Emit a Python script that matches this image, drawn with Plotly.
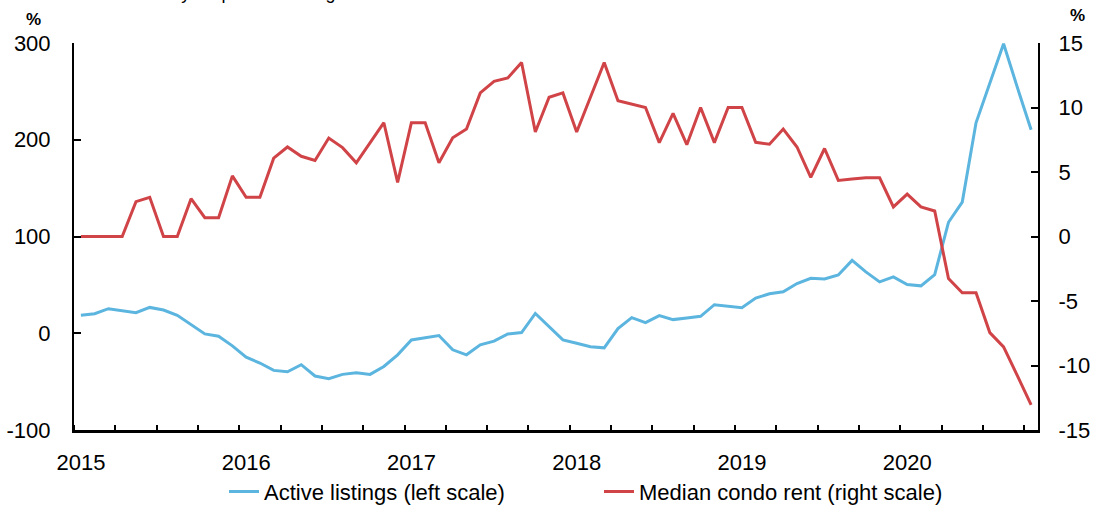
import plotly.graph_objects as go

# Monthly data, Jan 2015 .. Oct 2020
months = [f"{y}-{m:02d}" for y in range(2015, 2021) for m in range(1, 13)][:70]

active_listings = [
    18.5, 20.2, 25.4, 23.3, 21.3, 26.7, 24.0, 18.5, 9.2, -0.7, -3.1, -13.0,
    -24.7, -30.8, -38.4, -39.8, -32.5, -44.2, -46.9, -42.5, -40.8, -42.5, -34.3, -22.3,
    -6.9, -4.5, -2.4, -17.1, -22.3, -12.0, -8.2, -0.7, 0.7, 20.5, 6.5, -6.9,
    -10.3, -14.0, -15.1, 4.8, 16.1, 11.0, 18.2, 14.1, 15.8, 17.5, 29.5, 28.1,
    26.4, 36.3, 40.8, 42.8, 51.4, 56.8, 56.2, 60.3, 75.3, 63.4, 53.1, 58.3,
    50.3, 49.0, 60.6, 114.7, 135.6, 217.5, 257.6, 299.3, 254.1, 210.3,
]

median_condo_rent = [
    0.0, 0.0, 0.0, 0.0, 2.70, 3.04, 0.0, 0.0, 2.93, 1.46, 1.46, 4.70,
    3.04, 3.04, 6.07, 6.94, 6.22, 5.89, 7.63, 6.89, 5.71, 7.25, 8.82, 4.19,
    8.82, 8.82, 5.71, 7.66, 8.33, 11.13, 12.03, 12.29, 13.49, 8.10, 10.79, 11.13,
    8.10, 10.80, 13.49, 10.52, 10.28, 10.0, 7.28, 9.54, 7.12, 10.0, 7.28, 10.0,
    10.0, 7.30, 7.15, 8.33, 6.94, 4.58, 6.82, 4.35, 4.45, 4.55, 4.55, 2.29,
    3.29, 2.29, 1.98, -3.26, -4.37, -4.37, -7.45, -8.56, -10.79, -13.05,
]

years = ["2015", "2016", "2017", "2018", "2019", "2020"]
left_ticks = [-100, 0, 100, 200, 300]
right_ticks = [-15, -10, -5, 0, 5, 10, 15]

BLUE = "#5BB5DF"
RED = "#D04347"
FONT = "Liberation Sans, Arial, sans-serif"

x_idx = list(range(len(months)))
year_pos = [i for i, m in enumerate(months) if m.endswith("-01")]
quarter_bounds = [i - 0.5 for i in range(0, len(months) + 1, 3)]
year_bounds = [i - 0.5 for i in range(0, len(months) + 1, 12)]
xrange = [-0.5, len(months) - 0.5]

fig = go.Figure()
fig.add_trace(go.Scatter(
    x=x_idx, y=active_listings, mode="lines", name="Active listings (left scale)",
    line=dict(color=BLUE, width=3), xaxis="x", yaxis="y",
))
fig.add_trace(go.Scatter(
    x=x_idx, y=median_condo_rent, mode="lines", name="Median condo rent (right scale)",
    line=dict(color=RED, width=3), xaxis="x", yaxis="y2",
))

fig.update_layout(
    width=1096, height=508,
    margin=dict(l=74, r=58, t=43, b=78, autoexpand=False),
    paper_bgcolor="white", plot_bgcolor="white",
    font=dict(family=FONT, size=22, color="#000000"),
    showlegend=True,
    legend=dict(
        orientation="h", x=0.1556, xanchor="left", y=-0.105, yanchor="top",
        font=dict(size=22), entrywidth=330, entrywidthmode="pixels",
        bgcolor="rgba(0,0,0,0)",
    ),
    xaxis=dict(
        range=xrange, showgrid=False, zeroline=False, automargin=False,
        showline=True, linecolor="black", linewidth=2.5,
        tickmode="array", tickvals=[x_idx[i] for i in year_pos], ticktext=years,
        ticks="", ticklabelstandoff=11,
        minor=dict(tickmode="array", tickvals=quarter_bounds, ticks="inside",
                   ticklen=5, tickwidth=1.5, tickcolor="black", showgrid=False),
    ),
    xaxis2=dict(
        overlaying="x", matches="x", range=xrange, side="bottom", automargin=False,
        showgrid=False, zeroline=False, showline=False, showticklabels=False,
        tickmode="array", tickvals=year_bounds, ticks="inside",
        ticklen=8, tickwidth=1.5, tickcolor="black",
    ),
    xaxis3=dict(
        overlaying="x", matches="x", range=xrange, side="top", automargin=False,
        showgrid=False, zeroline=False, showline=True, linecolor="black",
        linewidth=1.2, showticklabels=False, ticks="",
    ),
    yaxis=dict(
        range=[-100, 300], tickmode="array", tickvals=left_ticks,
        ticktext=[str(v) for v in left_ticks], automargin=False,
        showgrid=False, zeroline=False, showline=True, linecolor="black",
        linewidth=2, ticks="inside", ticklen=7, tickwidth=1.5, tickcolor="black",
        ticklabelstandoff=17,
    ),
    yaxis2=dict(
        range=[-15, 15], tickmode="array", tickvals=right_ticks,
        ticktext=[str(v) for v in right_ticks], automargin=False,
        overlaying="y", side="right", anchor="x",
        showgrid=False, zeroline=False, showline=True, linecolor="black",
        linewidth=2, ticks="inside", ticklen=7, tickwidth=1.5, tickcolor="black",
        ticklabelstandoff=14,
    ),
    annotations=[
        dict(text="<b>%</b>", xref="paper", yref="paper", x=-0.0415, y=1.062,
             xanchor="center", yanchor="middle", showarrow=False,
             font=dict(size=17, family=FONT)),
        dict(text="<b>%</b>", xref="paper", yref="paper", x=1.0405, y=1.07,
             xanchor="center", yanchor="middle", showarrow=False,
             font=dict(size=17, family=FONT)),
        dict(text="Year-over-year percent change", xref="paper", yref="paper",
             x=0.1525, y=1.13, xanchor="center", yanchor="middle", showarrow=False,
             font=dict(size=18, family=FONT)),
    ],
)

fig.write_html(
    "out.html",
    config={"displayModeBar": False},
    post_script="document.body.style.margin='0';document.body.style.padding='0';",
)
